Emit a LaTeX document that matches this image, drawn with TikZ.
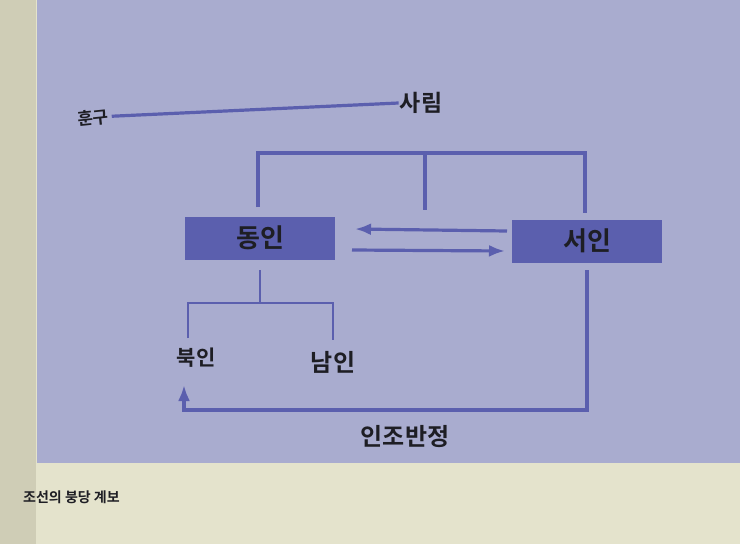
\documentclass[tikz,border=0pt]{standalone}
\usepackage{fontspec}
\usepackage{tikz}
\usetikzlibrary{arrows.meta}
\newfontfamily\kor{Noto Sans CJK KR}[BoldFont={* Bold}]
\definecolor{paper}{HTML}{E4E3CC}
\definecolor{gutter}{HTML}{CFCDB6}
\definecolor{panel}{HTML}{A9ACCF}
\definecolor{party}{HTML}{5B5FAE}
\definecolor{ink}{HTML}{1E1E24}

\begin{document}
\begin{tikzpicture}[x=1pt,y=-1pt]
    \tikzstyle{faction} = [draw=none, fill=party, rectangle, minimum width=150pt, minimum height=43pt, text=ink, font=\kor\bfseries\fontsize{26}{26}\selectfont]
    \tikzstyle{label} = [text=ink, inner sep=1pt]
    \tikzstyle{link} = [draw=party, line width=3.2pt]
    \tikzstyle{thin} = [draw=party, line width=1.4pt]
    \tikzstyle{arrow} = [draw=party, line width=3.2pt, -{Latex[length=16pt,width=12pt]}]
    % page and panel
    \fill[paper] (0,0) rectangle (740,544);
    \fill[gutter] (0,0) rectangle (36,544);
    \fill[panel] (37,0) rectangle (740,463);
    \useasboundingbox (0,0) rectangle (740,544);

    \node (hungu) [label, font=\kor\bfseries\fontsize{17}{17}\selectfont, rotate=6] at (93,118) {훈구};
    \node (sarim) [label, font=\kor\bfseries\fontsize{23}{23}\selectfont] at (421,103) {사림};
    \node (dongin) [faction] at (260,238) {동인};
    \node (seoin) [faction] at (587,241) {서인};
    \node (bugin) [label, font=\kor\bfseries\fontsize{21}{21}\selectfont] at (196,358) {북인};
    \node (namin) [label, font=\kor\bfseries\fontsize{24}{24}\selectfont] at (333,362) {남인};
    \node (injo) [label, font=\kor\bfseries\fontsize{24}{24}\selectfont] at (405,437) {인조반정};
    \node (caption) [label, anchor=west, font=\kor\bfseries\fontsize{14}{14}\selectfont] at (22,497) {조선의 붕당 계보};

    \coordinate (top) at (425,153);
    \coordinate (split) at (260,303);
    \coordinate (turn) at (584,410);

    \draw [link] ([xshift=2pt]hungu.east) -- (sarim.west);
    \draw [link] (258,207) |- (top) -| (585,213);
    \draw [link] (top) -- (425,210);
    \draw [arrow] (507,231) -- (355,229);
    \draw [arrow] (352,250) -- (505,251);
    \draw [thin] (dongin.south |- 0,270) -- (split);
    \draw [thin] (188,338) |- (split) -| (333,340);
    \draw [arrow] (seoin.south |- 0,270) |- (turn) -| (184,385);
\end{tikzpicture}
\end{document}
